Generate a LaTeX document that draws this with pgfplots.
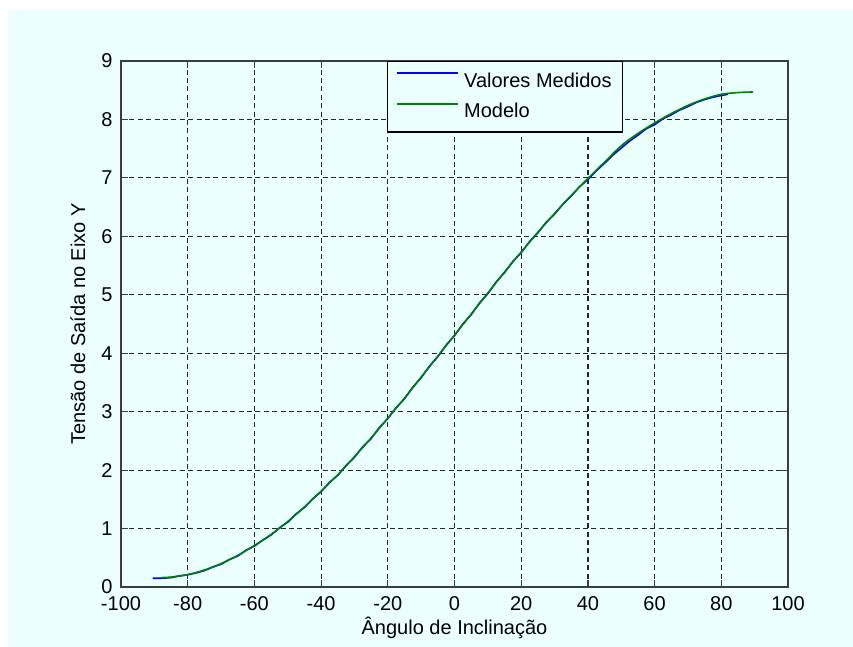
\documentclass[border=0pt]{standalone}
\usepackage{fontspec}
\setmainfont{Liberation Sans}
\usepackage{pgfplots}
\pgfplotsset{compat=1.18}
\definecolor{bgc}{RGB}{235,255,255}
\definecolor{axc}{RGB}{60,60,60}
\definecolor{mblue}{RGB}{0,0,255}
\definecolor{mgreen}{RGB}{0,128,0}
\begin{document}
\begin{tikzpicture}
\path[use as bounding box, fill=white] (0pt,0pt) rectangle (426.5pt,323.5pt);
\fill[bgc] (4pt,0pt) rectangle (426.5pt,318.5pt);
\begin{axis}[
  at={(60.5pt,30pt)}, anchor=south west, scale only axis,
  width=333.5pt, height=263pt,
  xmin=-100, xmax=100, ymin=0, ymax=9,
  xtick={-100,-80,-60,-40,-20,0,20,40,60,80,100},
  xticklabels={-100,-80,-60,-40,-20,0,20,40,60,80,100},
  ytick={0,1,2,3,4,5,6,7,8,9},
  yticklabels={0,1,2,3,4,5,6,7,8,9},
  tick align=inside, major tick length=3.5pt,
  tick style={axc, line width=0.6pt},
  axis line style={axc, line width=0.8pt},
  grid=major,
  major grid style={black!85, dash pattern=on 2.5pt off 1.7pt, line width=0.6pt},
  axis background/.style={fill=bgc},
  every tick label/.append style={font=\fontsize{10}{12}\selectfont, text=black},
  xticklabel style={anchor=north, inner sep=0pt, yshift=-4.5pt},
  yticklabel style={anchor=east, inner sep=0pt, xshift=-4pt},
  xlabel={Ângulo de Inclinação},
  ylabel={Tensão de Saída no Eixo Y},
  label style={font=\fontsize{10}{12}\selectfont},
  xlabel style={at={(axis description cs:0.5,-0.09125)}, anchor=base, inner sep=0pt},
  ylabel style={at={(axis description cs:-0.05397,0.5)}, anchor=base, inner sep=0pt},
  legend style={at={(axis description cs:0.5757,1)}, anchor=north,
    draw=black, line width=0.6pt, fill=bgc,
    font=\fontsize{10}{12}\selectfont,
    inner xsep=4.3pt, inner ysep=4.5pt, row sep=4.7pt, column sep=1.5pt,
    nodes={inner sep=1pt}},
  legend cell align=left,
  legend image code/.code={\draw[#1, line width=0.9pt] (0pt,4.3pt) -- (30.5pt,4.3pt);},
]
\addplot[mblue, line width=0.8pt] coordinates {
(-90.5,0.15) (-87.7,0.15) (-85,0.16) (-82.5,0.19) (-80,0.21) (-77.5,0.24) (-75,0.28)
(-72.5,0.34) (-70,0.39) (-67.5,0.47) (-65,0.53) (-62.5,0.63) (-60,0.70)
(-57.5,0.80) (-55,0.89) (-52.5,1.01) (-50,1.11) (-47.5,1.25) (-45,1.36)
(-42.5,1.51) (-40,1.63) (-37.5,1.79) (-35,1.91) (-32.5,2.08) (-30,2.22)
(-27.5,2.40) (-25,2.54) (-22.5,2.73) (-20,2.88) (-17.5,3.07) (-15,3.22)
(-12.5,3.42) (-10,3.58) (-7.5,3.78) (-5,3.94) (-2.5,4.14) (0,4.30)
(2.5,4.50) (5,4.66) (7.5,4.86) (10,5.02) (12.5,5.22) (15,5.38) (17.5,5.57)
(20,5.72) (22.5,5.91) (25,6.06) (27.5,6.24) (30,6.38) (32.5,6.55) (35,6.69)
(37.5,6.85) (40,6.97) (42.5,7.12) (45,7.25) (47.5,7.39) (50,7.51)
(52.5,7.63) (55,7.73) (57.5,7.84) (60,7.91) (62.5,8.01) (65,8.08)
(67.5,8.16) (70,8.22) (72.5,8.29) (75,8.34) (77.5,8.38) (80,8.41) (82,8.43)
};
\addlegendentry{Valores Medidos}
\addplot[mgreen, line width=0.8pt, smooth] coordinates {
(-88,0.16) (-85,0.17) (-80,0.21) (-75,0.29) (-70,0.40) (-65,0.54)
(-60,0.71) (-55,0.90) (-50,1.12) (-45,1.37) (-40,1.64) (-35,1.92) (-30,2.23)
(-25,2.55) (-20,2.89) (-15,3.23) (-10,3.59) (-5,3.95) (0,4.31) (5,4.67)
(10,5.03) (15,5.39) (20,5.73) (25,6.07) (30,6.39) (35,6.70) (40,6.99)
(45,7.27) (50,7.55) (55,7.76) (60,7.94) (65,8.10) (70,8.24) (75,8.35)
(80,8.43) (85,8.46) (89.5,8.47)
};
\addlegendentry{Modelo}
\end{axis}
\end{tikzpicture}
\end{document}
